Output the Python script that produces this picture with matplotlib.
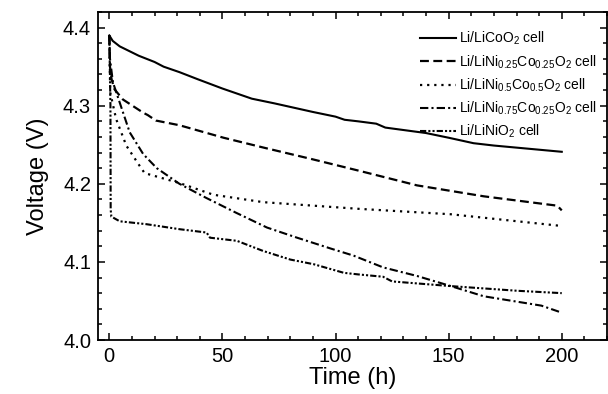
import matplotlib
matplotlib.use("Agg")
import matplotlib.pyplot as plt
from matplotlib.ticker import MultipleLocator

plt.rcParams['font.family'] = ['Liberation Sans', 'DejaVu Sans']
plt.rcParams['mathtext.fontset'] = 'custom'
plt.rcParams['mathtext.rm'] = 'Liberation Sans'
plt.rcParams['mathtext.default'] = 'regular'

# LiCoO2
t_co = [0, 1.5, 4.6, 13, 20, 24, 31, 39, 50, 63, 73, 90, 100, 104, 110, 118, 122, 140, 150, 161, 170, 185, 200]
v_co = [4.390, 4.383, 4.376, 4.364, 4.356, 4.350, 4.343, 4.334, 4.322, 4.309, 4.303, 4.292, 4.286,
        4.282, 4.280, 4.277, 4.272, 4.265, 4.259, 4.252, 4.249, 4.245, 4.241]
# LiNi0.25Co0.25O2
t_25 = [0, 0.3, 1, 2.3, 6, 15, 17, 20.6, 31, 50.5, 68, 89, 110, 136, 165.5, 198, 200]
v_25 = [4.390, 4.350, 4.334, 4.321, 4.308, 4.291, 4.288, 4.281, 4.275, 4.259, 4.2465, 4.232, 4.217,
        4.198, 4.184, 4.172, 4.166]
# LiNi0.5Co0.5O2
t_50 = [0, 0.4, 3, 7.5, 12.7, 15.6, 31, 46, 68, 110, 151, 200]
v_50 = [4.390, 4.317, 4.283, 4.249, 4.226, 4.2137, 4.201, 4.186, 4.1765, 4.168, 4.161, 4.146]
# LiNi0.75Co0.25O2
t_75 = [0, 0.3, 1.6, 4.6, 9, 15, 21, 31, 42.8, 56, 69.7, 83, 98, 108, 121, 136, 151, 165.5, 191, 200]
v_75 = [4.390, 4.360, 4.330, 4.304, 4.266, 4.238, 4.220, 4.200, 4.182, 4.163, 4.144, 4.131, 4.117,
        4.108, 4.093, 4.082, 4.069, 4.056, 4.044, 4.035]
# LiNiO2
t_ni = [0, 0.5, 0.6, 0.9, 4.6, 16.4, 31, 43, 44.5, 56.4, 68, 80, 90.4, 103.7, 110, 121, 125, 151, 180.5, 200]
v_ni = [4.390, 4.300, 4.167, 4.158, 4.152, 4.1483, 4.1419, 4.1376, 4.131, 4.127, 4.114, 4.103, 4.097,
        4.086, 4.084, 4.081, 4.075, 4.069, 4.063, 4.060]

labels = [r'Li/LiCoO$_2$ cell',
          r'Li/LiNi$_{0.25}$Co$_{0.25}$O$_2$ cell',
          r'Li/LiNi$_{0.5}$Co$_{0.5}$O$_2$ cell',
          r'Li/LiNi$_{0.75}$Co$_{0.25}$O$_2$ cell',
          r'Li/LiNiO$_2$ cell']

fig = plt.figure(figsize=(6.08, 3.94), dpi=100)
ax = fig.add_axes([98/608, 1-340/394, 509/608, 328/394])

ax.plot(t_co, v_co, color='black', lw=1.5, ls='-', label=labels[0])
ax.plot(t_25, v_25, color='black', lw=1.6, dashes=(4, 2), label=labels[1])
ax.plot(t_50, v_50, color='black', lw=1.6, dashes=(1, 2.2), label=labels[2])
ax.plot(t_75, v_75, color='black', lw=1.5, dashes=(4, 1.5, 1, 1.5), label=labels[3])
ax.plot(t_ni, v_ni, color='black', lw=1.5, dashes=(3, 1, 1, 1, 1, 1), label=labels[4])

ax.set_xlim(-5, 220)
ax.set_ylim(4.0, 4.42)
ax.xaxis.set_major_locator(MultipleLocator(50))
ax.xaxis.set_minor_locator(MultipleLocator(10))
ax.yaxis.set_minor_locator(MultipleLocator(0.02))
ax.set_yticks([4.0, 4.1, 4.2, 4.3, 4.4])
ax.set_yticklabels(['4.0', '4.1', '4.2', '4.3', '4.4'])
ax.tick_params(which='both', direction='in', top=True, right=True, labelsize=14.5, width=1.1, pad=5)
ax.tick_params(which='major', length=5)
ax.tick_params(which='minor', length=3)
for s in ax.spines.values():
    s.set_linewidth(1.3)

ax.set_xlabel('Time (h)', fontsize=17, labelpad=1)
ax.set_ylabel('Voltage (V)', fontsize=17, labelpad=10)

leg = ax.legend(loc='upper left', bbox_to_anchor=(0.632, 0.945), frameon=False, fontsize=10,
                handlelength=2.6, handletextpad=0.2, labelspacing=0.42, borderpad=0, borderaxespad=0)

fig.savefig('out.png', dpi=100)
